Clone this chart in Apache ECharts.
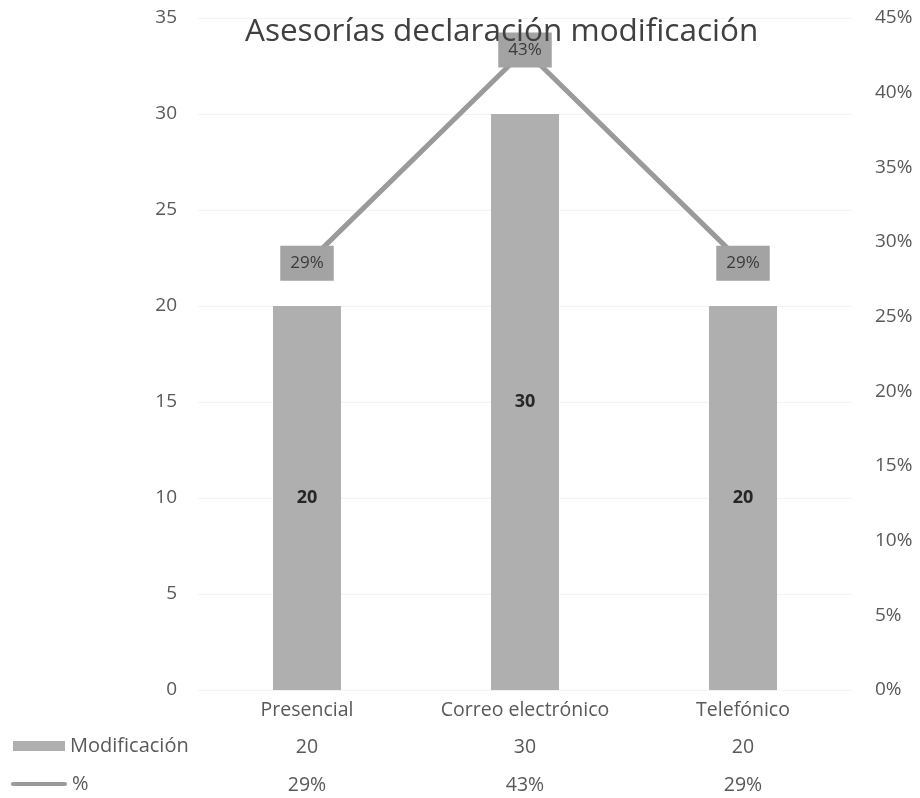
<!DOCTYPE html>
<html>
<head>
<meta charset="utf-8">
<script src="https://cdn.jsdelivr.net/npm/echarts@6/dist/echarts.min.js"></script>
<style>
html,body{margin:0;padding:0;background:#fff;}
#chart{width:920px;height:798px;}
</style>
</head>
<body>
<div id="chart"></div>
<script>
const titleText = 'Asesorías declaración modificación';
const categories = ['Presencial', 'Correo electrónico', 'Telefónico'];
const barName = 'Modificación';
const barValues = [20, 30, 20];
const lineName = '%';
const pctValues = [28.57, 42.86, 28.57];
const leftTicks = { min: 0, max: 35, interval: 5 };
const rightTicks = { min: 0, max: 45, interval: 5 };

const FONT = '"Open Sans", sans-serif';
const TXT = '#595959';

const chart = echarts.init(document.getElementById('chart'));
const fmtPct = v => Math.round(v) + '%';

chart.setOption({
  animation: false,
  title: {
    text: titleText,
    left: 240,
    top: 11,
    textStyle: { fontFamily: FONT, fontSize: 31.5, fontWeight: 'normal', color: '#404040' }
  },
  legend: [
    {
      left: 8, top: 731, itemWidth: 52, itemHeight: 10,
      textStyle: { fontFamily: FONT, fontSize: 20, color: TXT },
      data: [{ name: barName, icon: 'rect' }]
    },
    {
      left: 6, top: 769, itemWidth: 56, itemHeight: 10,
      textStyle: { fontFamily: FONT, fontSize: 20, color: TXT },
      data: [{ name: lineName, icon: 'path://M2,0 L54,0 A2,2 0 0 1 54,4 L2,4 A2,2 0 0 1 2,0 Z' }]
    }
  ],
  grid: { left: 198, right: 68, top: 18, bottom: 108 },
  xAxis: [
    {
      type: 'category', data: categories, position: 'bottom',
      axisLine: { show: false }, axisTick: { show: false },
      axisLabel: { interval: 0, hideOverlap: false, margin: 10, fontFamily: FONT, fontSize: 19.5, color: TXT }
    },
    {
      type: 'category', data: barValues.map(String), position: 'bottom', offset: 37,
      axisLine: { show: false }, axisTick: { show: false },
      axisLabel: { interval: 0, margin: 10, fontFamily: FONT, fontSize: 19.5, color: TXT }
    },
    {
      type: 'category', data: pctValues.map(fmtPct), position: 'bottom', offset: 75,
      axisLine: { show: false }, axisTick: { show: false },
      axisLabel: { interval: 0, margin: 10, fontFamily: FONT, fontSize: 19.5, color: TXT }
    }
  ],
  yAxis: [
    {
      type: 'value', min: leftTicks.min, max: leftTicks.max, interval: leftTicks.interval,
      axisLine: { show: false }, axisTick: { show: false },
      splitLine: { show: true, lineStyle: { color: '#f3f3f3', width: 1 } },
      axisLabel: { margin: 21, fontFamily: FONT, fontSize: 19, color: TXT }
    },
    {
      type: 'value', min: rightTicks.min, max: rightTicks.max, interval: rightTicks.interval,
      axisLine: { show: false }, axisTick: { show: false }, splitLine: { show: false },
      axisLabel: { margin: 23, fontFamily: FONT, fontSize: 19, color: TXT, formatter: '{value}%' }
    }
  ],
  series: [
    {
      name: barName, type: 'bar', data: barValues, xAxisIndex: 0, yAxisIndex: 0,
      barWidth: 68,
      itemStyle: { color: '#afafaf' },
      label: { show: true, position: 'inside', fontFamily: FONT, fontSize: 18, fontWeight: 'bold', color: '#262626' }
    },
    {
      name: lineName, type: 'line', data: pctValues, xAxisIndex: 0, yAxisIndex: 1,
      symbol: 'circle', symbolSize: 1, showSymbol: true,
      lineStyle: { color: '#9a9a9a', width: 5 },
      itemStyle: { color: '#9a9a9a' },
      z: 3,
      label: {
        show: true, position: 'inside', formatter: p => fmtPct(p.value),
        fontFamily: FONT, fontSize: 17, color: '#3a3a3a',
        backgroundColor: '#a3a3a3', padding: [9, 10]
      }
    }
  ]
});
</script>
</body>
</html>
